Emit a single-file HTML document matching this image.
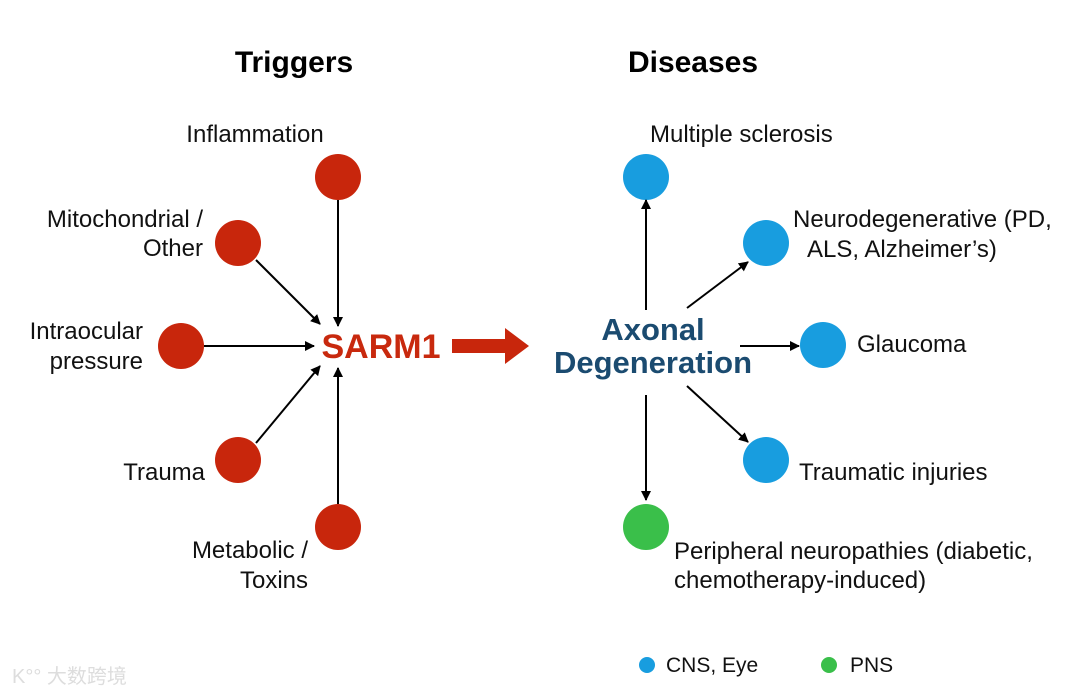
<!DOCTYPE html>
<html><head><meta charset="utf-8"><style>
html,body{margin:0;padding:0;background:#fff;}
svg{display:block;font-family:"Liberation Sans",Arial,sans-serif;}
</style></head><body>
<svg width="1080" height="694" viewBox="0 0 1080 694" xmlns="http://www.w3.org/2000/svg">
<defs>
<marker id="a" markerWidth="10" markerHeight="10" refX="9" refY="5" orient="auto" markerUnits="userSpaceOnUse">
<path d="M0,0 L10,5 L0,10 Z" fill="#000"/></marker>
</defs>
<rect width="1080" height="694" fill="#fff"/>
<g font-weight="bold" font-size="30" text-anchor="middle" fill="#000">
<text x="294" y="72">Triggers</text>
<text x="693" y="72">Diseases</text>
</g>
<g fill="#c8260c">
<circle cx="338" cy="177" r="23"/><circle cx="238" cy="243" r="23"/><circle cx="181" cy="346" r="23"/><circle cx="238" cy="460" r="23"/><circle cx="338" cy="527" r="23"/>
</g>
<circle cx="646" cy="177" r="23" fill="#189ddf"/><circle cx="766" cy="243" r="23" fill="#189ddf"/><circle cx="823" cy="345" r="23" fill="#189ddf"/><circle cx="766" cy="460" r="23" fill="#189ddf"/>
<circle cx="646" cy="527" r="23" fill="#3abf4a"/>
<g stroke="#000" stroke-width="2" marker-end="url(#a)">
<line x1="338" y1="200" x2="338" y2="326"/>
<line x1="256" y1="260" x2="320" y2="324"/>
<line x1="204" y1="346" x2="314" y2="346"/>
<line x1="256" y1="443" x2="320" y2="366"/>
<line x1="338" y1="504" x2="338" y2="368"/>
<line x1="646" y1="310" x2="646" y2="200"/>
<line x1="687" y1="308" x2="748" y2="262"/>
<line x1="740" y1="346" x2="799" y2="346"/>
<line x1="687" y1="386" x2="748" y2="442"/>
<line x1="646" y1="395" x2="646" y2="500"/>
</g>
<text x="381" y="358" text-anchor="middle" font-weight="bold" font-size="34" fill="#c8290e">SARM1</text>
<path d="M452,339 H505 V328 L529,346 L505,364 V353 H452 Z" fill="#c8260c"/>
<g font-weight="bold" font-size="31" text-anchor="middle" fill="#1b4b70">
<text x="653" y="340">Axonal</text>
<text x="653" y="373">Degeneration</text>
</g>
<g font-size="24" fill="#111">
<text x="255" y="142" text-anchor="middle">Inflammation</text>
<text x="203" y="227" text-anchor="end">Mitochondrial /</text>
<text x="203" y="256" text-anchor="end">Other</text>
<text x="143" y="339" text-anchor="end">Intraocular</text>
<text x="143" y="369" text-anchor="end">pressure</text>
<text x="205" y="480" text-anchor="end">Trauma</text>
<text x="308" y="558" text-anchor="end">Metabolic /</text>
<text x="308" y="588" text-anchor="end">Toxins</text>
<text x="650" y="142">Multiple sclerosis</text>
<text x="793" y="227">Neurodegenerative (PD,</text>
<text x="807" y="257">ALS, Alzheimer’s)</text>
<text x="857" y="352">Glaucoma</text>
<text x="799" y="480">Traumatic injuries</text>
<text x="674" y="559">Peripheral neuropathies (diabetic,</text>
<text x="674" y="588">chemotherapy-induced)</text>
</g>
<circle cx="647" cy="665" r="8" fill="#189ddf"/>
<circle cx="829" cy="665" r="8" fill="#3abf4a"/>
<g font-size="21" fill="#111">
<text x="666" y="672">CNS, Eye</text>
<text x="850" y="672">PNS</text>
</g>
<text x="12" y="683" font-size="20" fill="#ddd" font-family="'Liberation Sans','Noto Sans CJK SC',sans-serif">K°° 大数跨境</text>
</svg>
</body></html>
